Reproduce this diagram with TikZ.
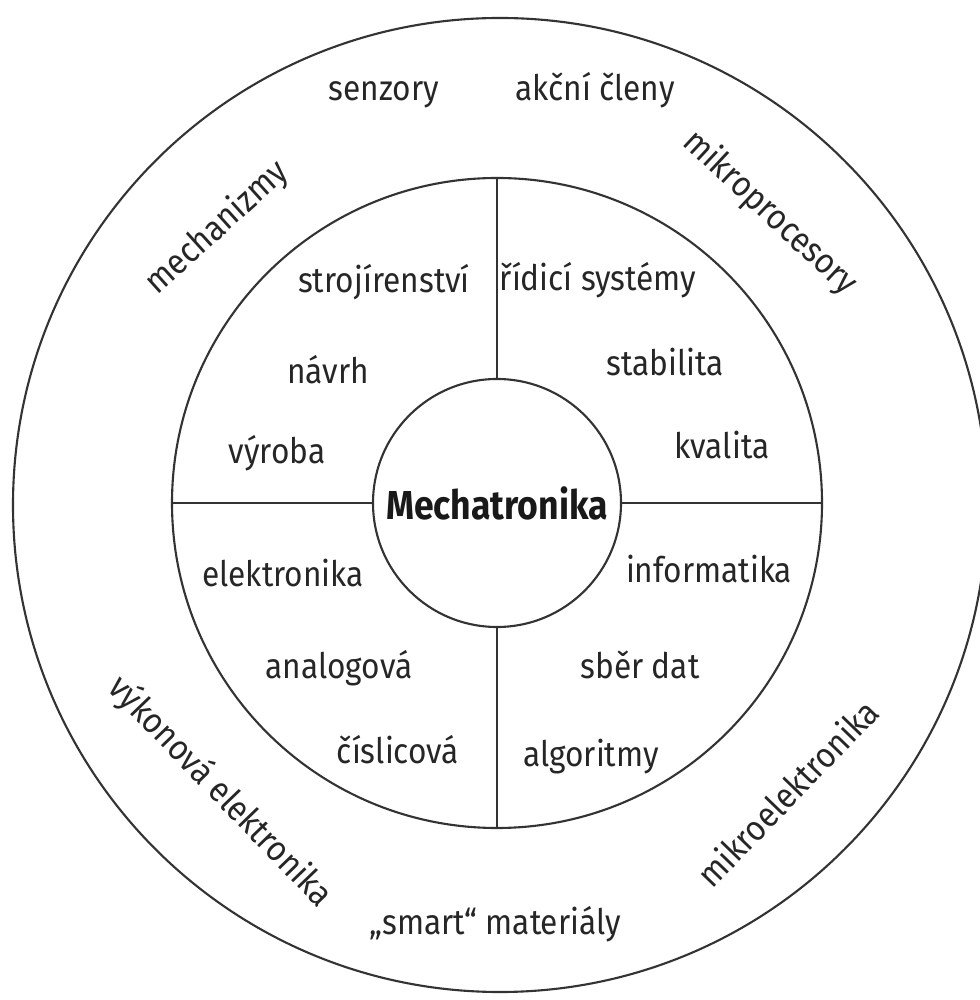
\documentclass[tikz,border=0pt]{standalone}
\usepackage{fontspec}
\setmainfont{Fira Sans}[FakeStretch=0.9]
\newfontfamily\headfont{Fira Sans}[FakeStretch=0.88]

\begin{document}
\begin{tikzpicture}[
    lbl/.style={font=\fontsize{10}{12}\selectfont, text=black!85, inner sep=0pt},
    ringline/.style={draw=black!80, line width=0.6pt}
  ]
  % Okraje obrazku
  \useasboundingbox (-4.97,-4.97) rectangle (4.82,5.03);

  % Tri soustredne kruhy
  \node[circle, ringline, minimum size=9.74cm, inner sep=0pt] (rim) at (0.03,-0.02) {};
  \node[circle, ringline, minimum size=6.50cm, inner sep=0pt] (ring) at (0,0) {};
  \node[circle, ringline, minimum size=2.48cm, inner sep=0pt,
        font=\headfont\bfseries\fontsize{11.5}{13}\selectfont, text=black!90] (core) at (0,0) {Mechatronika};

  % Deleni prostredniho mezikruzi na ctvrtiny
  \foreach \d in {north, east, south, west}
    \draw[ringline] (core.\d) -- (ring.\d);

  % Vnejsi mezikruzi
  \node[lbl] (senz) at (-1.13,4.08) {senzory};
  \node[lbl] (akcni) at (0.98,4.13) {akční členy};
  \node[lbl, rotate=42] (mech) at (-2.80,2.75) {mechanizmy};
  \node[lbl, rotate=-43] (mproc) at (2.73,2.90) {mikroprocesory};
  \node[lbl, rotate=-46] (vykel) at (-2.77,-2.89) {výkonová elektronika};
  \node[lbl, rotate=46] (mikroel) at (2.90,-2.90) {mikroelektronika};
  \node[lbl] (smart) at (-0.02,-4.21) {„smart“ materiály};

  % Levy horni kvadrant
  \node[lbl] (stroj) at (-1.13,2.21) {strojírenství};
  \node[lbl] (navrh) at (-1.69,1.33) {návrh};
  \node[lbl] (vyroba) at (-2.20,0.50) {výroba};

  % Pravy horni kvadrant
  \node[lbl] (rizeni) at (1.01,2.23) {řídicí systémy};
  \node[lbl] (stab) at (1.68,1.41) {stabilita};
  \node[lbl] (kval) at (2.25,0.58) {kvalita};

  % Levy dolni kvadrant
  \node[lbl] (elektro) at (-2.14,-0.70) {elektronika};
  \node[lbl] (analog) at (-1.58,-1.65) {analogová};
  \node[lbl] (cisl) at (-0.99,-2.47) {číslicová};

  % Pravy dolni kvadrant
  \node[lbl] (info) at (2.12,-0.66) {informatika};
  \node[lbl] (sber) at (1.43,-1.62) {sběr dat};
  \node[lbl] (algo) at (0.94,-2.54) {algoritmy};
\end{tikzpicture}
\end{document}
